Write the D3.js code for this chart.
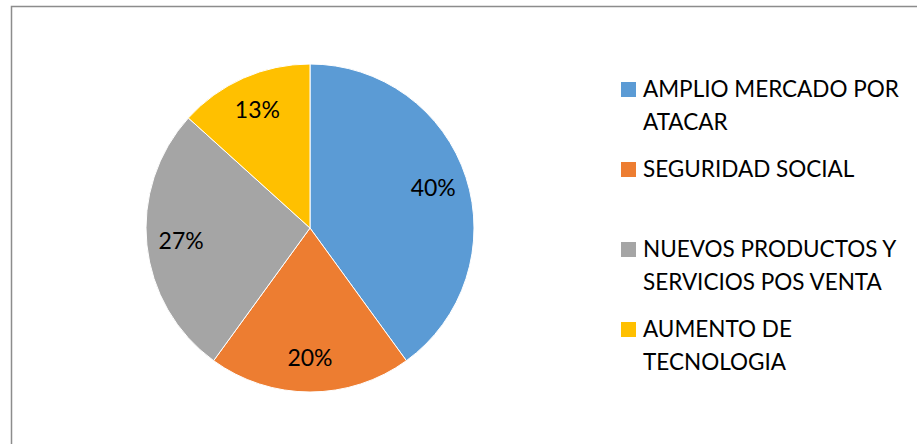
<!DOCTYPE html>
<html lang="es">
<head>
    <meta charset="UTF-8">
    <title>Pie Chart</title>
    <script src="https://cdn.jsdelivr.net/npm/d3@7"></script>
    <style>
        body { margin: 0; background: #fff; }
        text { font-family: Lato, "Open Sans", sans-serif; fill: #000; }
    </style>
</head>
<body>
    <div id="chart-space"></div>

    <script>
        // data (percent of total)
        var categories = ["AMPLIO MERCADO POR ATACAR", "SEGURIDAD SOCIAL",
                          "NUEVOS PRODUCTOS Y SERVICIOS POS VENTA", "AUMENTO DE TECNOLOGIA"];
        var legendLines = [["AMPLIO MERCADO POR", "ATACAR"], ["SEGURIDAD SOCIAL"],
                           ["NUEVOS PRODUCTOS Y", "SERVICIOS POS VENTA"], ["AUMENTO DE", "TECNOLOGIA"]];
        var values = [40, 20, 26.7, 13.3];
        var colors = ["#5B9BD5", "#ED7D31", "#A5A5A5", "#FFC000"];

        var width = 917;
        var height = 444;

        var cx = 310, cy = 228, radius = 164;

        var svg = d3.select("#chart-space")
            .append("svg")
            .attr("width", width)
            .attr("height", height);

        // chart frame (runs off the right and bottom edges)
        svg.append("rect")
            .attr("x", 11.5)
            .attr("y", 6.5)
            .attr("width", 1000)
            .attr("height", 1000)
            .attr("fill", "none")
            .attr("stroke", "#8c8c8c")
            .attr("stroke-width", 1.5);

        var data = categories.map(function(c, i) {
            return {name: c, value: values[i], color: colors[i]};
        });

        var pie = d3.pie()
            .sort(null)
            .value(function(d) { return d.value; });

        var arc = d3.arc().innerRadius(0).outerRadius(radius);
        var labelArc = d3.arc().innerRadius(radius * 0.79).outerRadius(radius * 0.79);

        var g = svg.append("g")
            .attr("transform", "translate(" + cx + "," + cy + ")");

        var slices = pie(data);

        g.selectAll("path")
            .data(slices)
            .join("path")
            .attr("d", arc)
            .attr("fill", function(d) { return d.data.color; })
            .attr("stroke", "#fff")
            .attr("stroke-width", 1);

        g.selectAll("text")
            .data(slices)
            .join("text")
            .attr("transform", function(d) { return "translate(" + labelArc.centroid(d) + ")"; })
            .attr("text-anchor", "middle")
            .attr("dy", "0.35em")
            .style("font-size", "23px")
            .text(function(d) { return Math.round(d.data.value) + "%"; });

        // legend
        var legend = svg.append("g")
            .attr("transform", "translate(621,97)");

        var items = legend.selectAll("g")
            .data(data)
            .join("g")
            .attr("transform", function(d, i) { return "translate(0," + (i * 80) + ")"; });

        items.append("rect")
            .attr("x", 0)
            .attr("y", -15)
            .attr("width", 15)
            .attr("height", 15)
            .attr("fill", function(d) { return d.color; });

        items.each(function(d, i) {
            d3.select(this).selectAll("text")
                .data(legendLines[i])
                .join("text")
                .attr("x", 22)
                .attr("y", function(line, j) { return j * 33; })
                .style("font-size", "22.5px")
                .text(function(line) { return line; });
        });
    </script>
</body>
</html>
